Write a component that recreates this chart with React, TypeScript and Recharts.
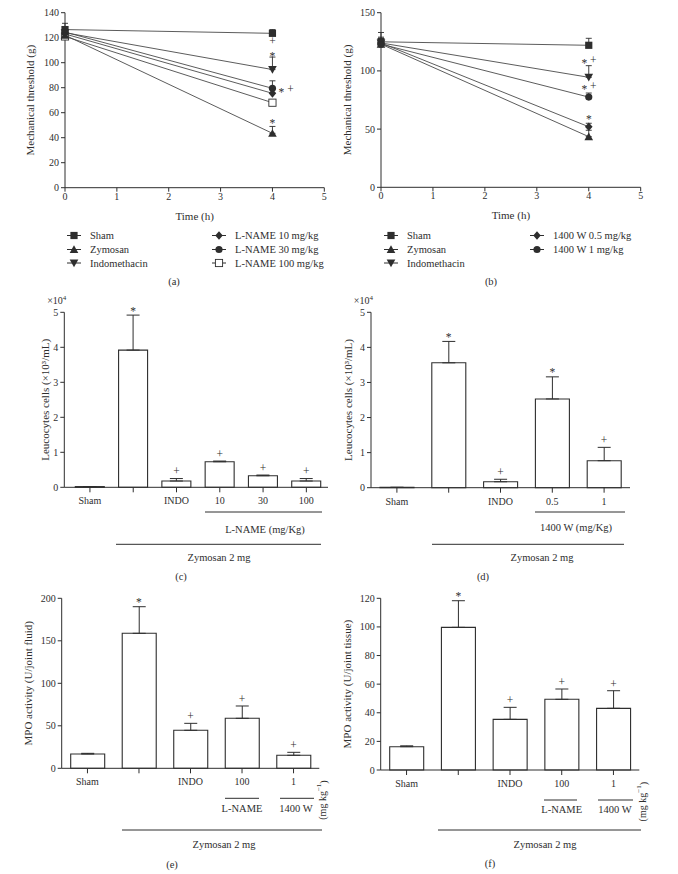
import React from 'react';
import { ComposedChart, Line, Bar, XAxis, YAxis, ErrorBar, ReferenceDot, Label } from 'recharts';

const FONT = '"Liberation Serif", "Times New Roman", Times, serif';
const INK = '#2e2e2e';
const LINE = '#4a4a4a';

// ---------- Panel (a): mechanical threshold, L-NAME ----------
const timeH = [0, 4];
const timeTicks = [0, 1, 2, 3, 4, 5];
const aSham = [126.5, 123.5];
const aShamErr = [5, 3];
const aZym = [122, 43.5];
const aZymErr = [4, 5.5];
const aIndo = [124, 94.5];
const aIndoErr = [4, 10];
const aLn10 = [123, 75.5];
const aLn10Err = [3, 3];
const aLn30 = [124.5, 79.5];
const aLn30Err = [4, 6];
const aLn100 = [121, 68];
const aLn100Err = [3, 2];
const aTicks = [0, 20, 40, 60, 80, 100, 120, 140];
const aAnn = [
  { t: 4, v: 116.5, s: '+' },
  { t: 4, v: 106.5, s: '*' },
  { t: 4, v: 78, s: '* +', side: 'right' },
  { t: 4, v: 53, s: '*' },
];

// ---------- Panel (b): mechanical threshold, 1400 W ----------
const bSham = [125, 122];
const bShamErr = [8, 6];
const bZym = [123, 43.5];
const bZymErr = [5, 5.5];
const bIndo = [124, 94.5];
const bIndoErr = [5, 10];
const bW05 = [124, 52];
const bW05Err = [4, 3];
const bW1 = [123, 77.5];
const bW1Err = [4, 3.5];
const bTicks = [0, 50, 100, 150];
const bAnn = [
  { t: 4, v: 108.5, s: '* +' },
  { t: 4, v: 86, s: '* +' },
  { t: 4, v: 60, s: '*' },
];

// ---------- Panel (c): leucocytes, L-NAME ----------
const cKeys = ['sham', 'zym', 'indo', 'l10', 'l30', 'l100'];
const cLabels = ['Sham', '', 'INDO', '10', '30', '100'];
const cVals = [0.02, 3.92, 0.18, 0.73, 0.33, 0.18];
const cErrs = [0, 1.0, 0.07, 0.02, 0.02, 0.07];
const cSig = ['', '*', '+', '+', '+', '+'];
const cTicks = [0, 1, 2, 3, 4, 5];

// ---------- Panel (d): leucocytes, 1400 W ----------
const dKeys = ['sham', 'zym', 'indo', 'w05', 'w1'];
const dLabels = ['Sham', '', 'INDO', '0.5', '1'];
const dVals = [0.01, 3.56, 0.17, 2.53, 0.77];
const dErrs = [0, 0.61, 0.07, 0.63, 0.38];
const dSig = ['', '*', '+', '*', '+'];
const dTicks = [0, 1, 2, 3, 4, 5];

// ---------- Panel (e): MPO joint fluid ----------
const eKeys = ['sham', 'zym', 'indo', 'lname', 'w1400'];
const eLabels = ['Sham', '', 'INDO', '100', '1'];
const eVals = [16.8, 158.8, 44.7, 58.8, 15.3];
const eErrs = [0.8, 31.3, 8.2, 14.5, 3.5];
const eSig = ['', '*', '+', '+', '+'];
const eTicks = [0, 50, 100, 150, 200];

// ---------- Panel (f): MPO joint tissue ----------
const fKeys = ['sham', 'zym', 'indo', 'lname', 'w1400'];
const fLabels = ['Sham', '', 'INDO', '100', '1'];
const fVals = [16.3, 99.7, 35.4, 49.4, 43.1];
const fErrs = [0.6, 18.6, 8.4, 7.2, 12.3];
const fSig = ['', '*', '+', '+', '+'];
const fTicks = [0, 20, 40, 60, 80, 100, 120];

type MarkerKind = 'square' | 'openSquare' | 'triUp' | 'triDown' | 'diamond' | 'circle';

const seriesA: { key: string; name: string; vals: number[]; errs: number[]; marker: MarkerKind }[] = [
  { key: 'sham', name: 'Sham', vals: aSham, errs: aShamErr, marker: 'square' },
  { key: 'ln100', name: 'L-NAME 100 mg/kg', vals: aLn100, errs: aLn100Err, marker: 'openSquare' },
  { key: 'ln10', name: 'L-NAME 10 mg/kg', vals: aLn10, errs: aLn10Err, marker: 'diamond' },
  { key: 'ln30', name: 'L-NAME 30 mg/kg', vals: aLn30, errs: aLn30Err, marker: 'circle' },
  { key: 'indo', name: 'Indomethacin', vals: aIndo, errs: aIndoErr, marker: 'triDown' },
  { key: 'zym', name: 'Zymosan', vals: aZym, errs: aZymErr, marker: 'triUp' },
];

const seriesB: { key: string; name: string; vals: number[]; errs: number[]; marker: MarkerKind }[] = [
  { key: 'sham', name: 'Sham', vals: bSham, errs: bShamErr, marker: 'square' },
  { key: 'w05', name: '1400 W 0.5 mg/kg', vals: bW05, errs: bW05Err, marker: 'diamond' },
  { key: 'w1', name: '1400 W 1 mg/kg', vals: bW1, errs: bW1Err, marker: 'circle' },
  { key: 'indo', name: 'Indomethacin', vals: bIndo, errs: bIndoErr, marker: 'triDown' },
  { key: 'zym', name: 'Zymosan', vals: bZym, errs: bZymErr, marker: 'triUp' },
];

function buildLineRows(series: typeof seriesA) {
  return timeH.map((t, i) => {
    const r: any = { t };
    series.forEach((s) => {
      r[s.key] = s.vals[i];
      r[s.key + 'E'] = [0, s.errs[i]];
    });
    return r;
  });
}

function buildBarRows(keys: string[], vals: number[], errs: number[], sig: string[]) {
  return keys.map((k, i) => ({ key: k, v: vals[i], e: [0, errs[i]], top: vals[i] + errs[i], sig: sig[i] }));
}

function Marker({ kind, cx, cy, s = 3.6 }: { kind: MarkerKind; cx: number; cy: number; s?: number }) {
  if (cx == null || cy == null || isNaN(cx) || isNaN(cy)) return null;
  switch (kind) {
    case 'square':
      return <rect x={cx - s} y={cy - s} width={2 * s} height={2 * s} fill={INK} />;
    case 'openSquare':
      return <rect x={cx - s} y={cy - s} width={2 * s} height={2 * s} fill="#fff" stroke={INK} strokeWidth={0.9} />;
    case 'triUp': {
      const w = s * 1.2, h = s * 1.15;
      return <polygon points={`${cx},${cy - h} ${cx + w},${cy + h * 0.85} ${cx - w},${cy + h * 0.85}`} fill={INK} />;
    }
    case 'triDown': {
      const w = s * 1.2, h = s * 1.15;
      return <polygon points={`${cx},${cy + h} ${cx + w},${cy - h * 0.85} ${cx - w},${cy - h * 0.85}`} fill={INK} />;
    }
    case 'diamond': {
      const w = s * 1.05, h = s * 1.2;
      return <polygon points={`${cx},${cy - h} ${cx + w},${cy} ${cx},${cy + h} ${cx - w},${cy}`} fill={INK} />;
    }
    case 'circle':
    default:
      return <circle cx={cx} cy={cy} r={s} fill={INK} />;
  }
}

function SigMark({ cx, cy, text, side, lift = 0 }: { cx: number; cy: number; text: string; side?: string; lift?: number }) {
  if (!text || cx == null || cy == null) return <g />;
  const toks = text.split(' ');
  const gap = 9;
  const y0 = cy - lift;
  return (
    <g>
      {toks.map((t, i) => {
        const x = side === 'right' ? cx + 9 + i * gap : cx + (i - (toks.length - 1) / 2) * gap;
        const base = y0 + (t === '*' ? 5.5 : 2.9);
        return (
          <text key={i} x={x} y={base} textAnchor="middle" fontSize={11.5} fontFamily={FONT} fill={INK}>
            {t}
          </text>
        );
      })}
    </g>
  );
}

function yTitle(text: React.ReactNode, dist: number, exp?: boolean) {
  return (props: any) => {
    const vb = props.viewBox || {};
    const axisX = (vb.x ?? 0) + (vb.width ?? 0);
    const top = vb.y ?? 0;
    const cy = top + (vb.height ?? 0) / 2;
    const tx = axisX - dist;
    return (
      <g>
        <text
          x={tx}
          y={cy}
          transform={`rotate(-90 ${tx} ${cy})`}
          textAnchor="middle"
          dominantBaseline="central"
          fontSize={11}
          fontFamily={FONT}
          fill={INK}
        >
          {text}
        </text>
        {exp ? (
          <text x={axisX + 2} y={top - 8} textAnchor="end" fontSize={10} fontFamily={FONT} fill={INK}>
            ×10
            <tspan dy={-4} fontSize={7}>
              4
            </tspan>
          </text>
        ) : null}
      </g>
    );
  };
}

function xTitle(text: string) {
  return (props: any) => {
    const vb = props.viewBox || {};
    const cx = (vb.x ?? 0) + (vb.width ?? 0) / 2;
    const y = (vb.y ?? 0) + 32;
    return (
      <text x={cx} y={y} textAnchor="middle" fontSize={11} fontFamily={FONT} fill={INK}>
        {text}
      </text>
    );
  };
}

const tickStyle = { fill: INK, fontSize: 10, fontFamily: FONT };

function LinePanel(props: {
  left: number; top: number; width: number; height: number;
  margin: any; yWidth: number; series: typeof seriesA; yMax: number; yTicks: number[];
  ann: { t: number; v: number; s: string; side?: string }[]; titleDist: number;
}) {
  const { left, top, width, height, margin, yWidth, series, yMax, yTicks, ann, titleDist } = props;
  const rows = buildLineRows(series);
  return (
    <div style={{ position: 'absolute', left, top }}>
      <ComposedChart width={width} height={height} data={rows} margin={margin}>
        <XAxis
          dataKey="t"
          type="number"
          domain={[0, 5]}
          ticks={timeTicks}
          interval={0}
          height={32}
          tickSize={4}
          tickMargin={1}
          stroke={INK}
          tick={tickStyle}
          label={<Label content={xTitle('Time (h)')} />}
        />
        <YAxis
          type="number"
          domain={[0, yMax]}
          ticks={yTicks}
          interval={0}
          width={yWidth}
          tickSize={4}
          tickMargin={2}
          stroke={INK}
          tick={tickStyle}
          label={<Label content={yTitle('Mechanical threshold (g)', titleDist)} />}
        />
        {series.map((s) => (
          <Line
            key={s.key}
            dataKey={s.key}
            type="linear"
            stroke={LINE}
            strokeWidth={0.9}
            isAnimationActive={false}
            activeDot={false}
            legendType="none"
            dot={(p: any) => <Marker key={`${s.key}-${p.index}`} kind={s.marker} cx={p.cx} cy={p.cy} />}
          >
            <ErrorBar dataKey={s.key + 'E'} width={3} stroke={INK} strokeWidth={0.9} direction="y" />
          </Line>
        ))}
        {ann.map((a, i) => (
          <ReferenceDot
            key={`ann-${i}`}
            x={a.t}
            y={a.v}
            r={0}
            ifOverflow="visible"
            shape={(p: any) => <SigMark cx={p.cx} cy={p.cy} text={a.s} side={a.side} />}
          />
        ))}
      </ComposedChart>
    </div>
  );
}

function BarPanel(props: {
  left: number; top: number; width: number; height: number; margin: any; yWidth: number;
  keys: string[]; labels: string[]; vals: number[]; errs: number[]; sig: string[];
  yMax: number; yTicks: number[]; barSize: number; padLeft: number;
  title: React.ReactNode; titleDist: number; exp?: boolean;
}) {
  const { left, top, width, height, margin, yWidth, keys, labels, vals, errs, sig, yMax, yTicks, barSize, padLeft, title, titleDist, exp } = props;
  const rows = buildBarRows(keys, vals, errs, sig);
  return (
    <div style={{ position: 'absolute', left, top }}>
      <ComposedChart width={width} height={height} data={rows} margin={margin}>
        <XAxis
          dataKey="key"
          type="category"
          interval={0}
          height={20}
          tickSize={5}
          tickMargin={5}
          padding={{ left: padLeft, right: 0 }}
          stroke={INK}
          tick={tickStyle}
          tickFormatter={(k: string) => labels[keys.indexOf(k)]}
        />
        <YAxis
          type="number"
          domain={[0, yMax]}
          ticks={yTicks}
          interval={0}
          width={yWidth}
          tickSize={4}
          tickMargin={2}
          stroke={INK}
          tick={tickStyle}
          label={<Label content={yTitle(title, titleDist, exp)} />}
        />
        <Bar dataKey="v" fill="#fff" stroke={INK} strokeWidth={1.1} barSize={barSize} isAnimationActive={false} legendType="none">
          <ErrorBar dataKey="e" width={6.5} stroke={INK} strokeWidth={1} direction="y" />
        </Bar>
        {rows.map((r, i) =>
          r.sig ? (
            <ReferenceDot
              key={`sig-${i}`}
              x={r.key}
              y={r.top}
              r={0}
              ifOverflow="visible"
              shape={(p: any) => <SigMark cx={p.cx} cy={p.cy} text={r.sig} lift={6} />}
            />
          ) : null
        )}
      </ComposedChart>
    </div>
  );
}

function LegendItem({ x, y, kind, text }: { x: number; y: number; kind: MarkerKind; text: string }) {
  return (
    <g>
      <line x1={x - 7} x2={x + 7} y1={y} y2={y} stroke={INK} strokeWidth={1} />
      <Marker kind={kind} cx={x} cy={y} s={3.6} />
      <text x={x + 16} y={y + 3.5} fontSize={10.5} fontFamily={FONT} fill={INK}>
        {text}
      </text>
    </g>
  );
}

function Decorations() {
  const T = (p: { x: number; y: number; children: React.ReactNode; size?: number }) => (
    <text x={p.x} y={p.y + 3.5} textAnchor="middle" fontSize={p.size ?? 10.5} fontFamily={FONT} fill={INK}>
      {p.children}
    </text>
  );
  const L = (p: { x1: number; x2: number; y: number }) => (
    <line x1={p.x1} x2={p.x2} y1={p.y} y2={p.y} stroke={INK} strokeWidth={1} />
  );
  const rot = (x: number, y: number) => (
    <text
      x={x}
      y={y}
      transform={`rotate(-90 ${x} ${y})`}
      textAnchor="middle"
      dominantBaseline="central"
      fontSize={10}
      fontFamily={FONT}
      fill={INK}
    >
      (mg kg
      <tspan dy={-4} fontSize={7}>
        −1
      </tspan>
      <tspan dy={4}>)</tspan>
    </text>
  );
  return (
    <svg width={678} height={874} style={{ position: 'absolute', left: 0, top: 0, pointerEvents: 'none' }}>
      {/* legend (a) */}
      <LegendItem x={74} y={235.5} kind="square" text="Sham" />
      <LegendItem x={74} y={249.5} kind="triUp" text="Zymosan" />
      <LegendItem x={74} y={263} kind="triDown" text="Indomethacin" />
      <LegendItem x={219} y={235.5} kind="diamond" text="L-NAME 10 mg/kg" />
      <LegendItem x={219} y={249.5} kind="circle" text="L-NAME 30 mg/kg" />
      <LegendItem x={219} y={263} kind="openSquare" text="L-NAME 100 mg/kg" />
      <T x={174} y={281}>(a)</T>
      {/* legend (b) */}
      <LegendItem x={391} y={235.5} kind="square" text="Sham" />
      <LegendItem x={391} y={249.5} kind="triUp" text="Zymosan" />
      <LegendItem x={391} y={263} kind="triDown" text="Indomethacin" />
      <LegendItem x={537} y={235.5} kind="diamond" text="1400 W 0.5 mg/kg" />
      <LegendItem x={537} y={249.5} kind="circle" text="1400 W 1 mg/kg" />
      <T x={491} y={281}>(b)</T>

      {/* (c) */}
      <L x1={205} x2={322} y={512} />
      <T x={265} y={529}>L-NAME (mg/Kg)</T>
      <L x1={116} x2={321} y={544.3} />
      <T x={219} y={557}>Zymosan 2 mg</T>
      <T x={181} y={576}>(c)</T>

      {/* (d) */}
      <L x1={535} x2={625} y={512} />
      <T x={576} y={527}>1400 W (mg/Kg)</T>
      <L x1={432} x2={624} y={544.3} />
      <T x={542} y={557}>Zymosan 2 mg</T>
      <T x={483} y={576}>(d)</T>

      {/* (e) */}
      <L x1={225} x2={259} y={798.3} />
      <T x={242} y={808}>L-NAME</T>
      <L x1={280} x2={314} y={798.3} />
      <T x={296} y={808}>1400 W</T>
      {rot(322.7, 800)}
      <L x1={122} x2={322} y={830} />
      <T x={224} y={844}>Zymosan 2 mg</T>
      <T x={172} y={864}>(e)</T>

      {/* (f) */}
      <L x1={544} x2={577} y={800} />
      <T x={561.7} y={809}>L-NAME</T>
      <L x1={598} x2={633} y={800} />
      <T x={615} y={809}>1400 W</T>
      {rot(642.7, 801.7)}
      <L x1={438} x2={641} y={830} />
      <T x={545} y={844}>Zymosan 2 mg</T>
      <T x={490} y={863}>(f)</T>
    </svg>
  );
}

export default function App() {
  return (
    <div style={{ position: 'absolute', left: 0, top: 0, width: 678, height: 874, background: '#fff', fontFamily: FONT }}>
      <LinePanel
        left={0} top={0} width={340} height={225}
        margin={{ top: 12.7, right: 15.7, bottom: 5.3, left: 0 }}
        yWidth={65} series={seriesA} yMax={140} yTicks={aTicks} ann={aAnn} titleDist={35}
      />
      <LinePanel
        left={340} top={0} width={338} height={225}
        margin={{ top: 12.7, right: 37.3, bottom: 5.7, left: 0 }}
        yWidth={41} series={seriesB} yMax={150} yTicks={bTicks} ann={bAnn} titleDist={34.3}
      />
      <BarPanel
        left={0} top={290} width={340} height={230}
        margin={{ top: 22.3, right: 12, bottom: 12.7, left: 0 }}
        yWidth={64.3} keys={cKeys} labels={cLabels} vals={cVals} errs={cErrs} sig={cSig}
        yMax={5} yTicks={cTicks} barSize={29} padLeft={4}
        title="Leucocytes cells (×10³/mL)" titleDist={19.3} exp
      />
      <BarPanel
        left={340} top={290} width={338} height={230}
        margin={{ top: 22.3, right: 48, bottom: 12.3, left: 0 }}
        yWidth={31} keys={dKeys} labels={dLabels} vals={dVals} errs={dErrs} sig={dSig}
        yMax={5} yTicks={dTicks} barSize={34} padLeft={0}
        title="Leucocytes cells (×10³/mL)" titleDist={23} exp
      />
      <BarPanel
        left={0} top={580} width={340} height={220}
        margin={{ top: 18.3, right: 20.7, bottom: 11.7, left: 0 }}
        yWidth={61.7} keys={eKeys} labels={eLabels} vals={eVals} errs={eErrs} sig={eSig}
        yMax={200} yTicks={eTicks} barSize={34} padLeft={0}
        title="MPO activity (U/joint fluid)" titleDist={33.4}
      />
      <BarPanel
        left={340} top={580} width={338} height={220}
        margin={{ top: 18.3, right: 38.7, bottom: 10, left: 0 }}
        yWidth={40.7} keys={fKeys} labels={fLabels} vals={fVals} errs={fErrs} sig={fSig}
        yMax={120} yTicks={fTicks} barSize={34} padLeft={0}
        title="MPO activity (U/joint tissue)" titleDist={34}
      />
      <Decorations />
    </div>
  );
}
